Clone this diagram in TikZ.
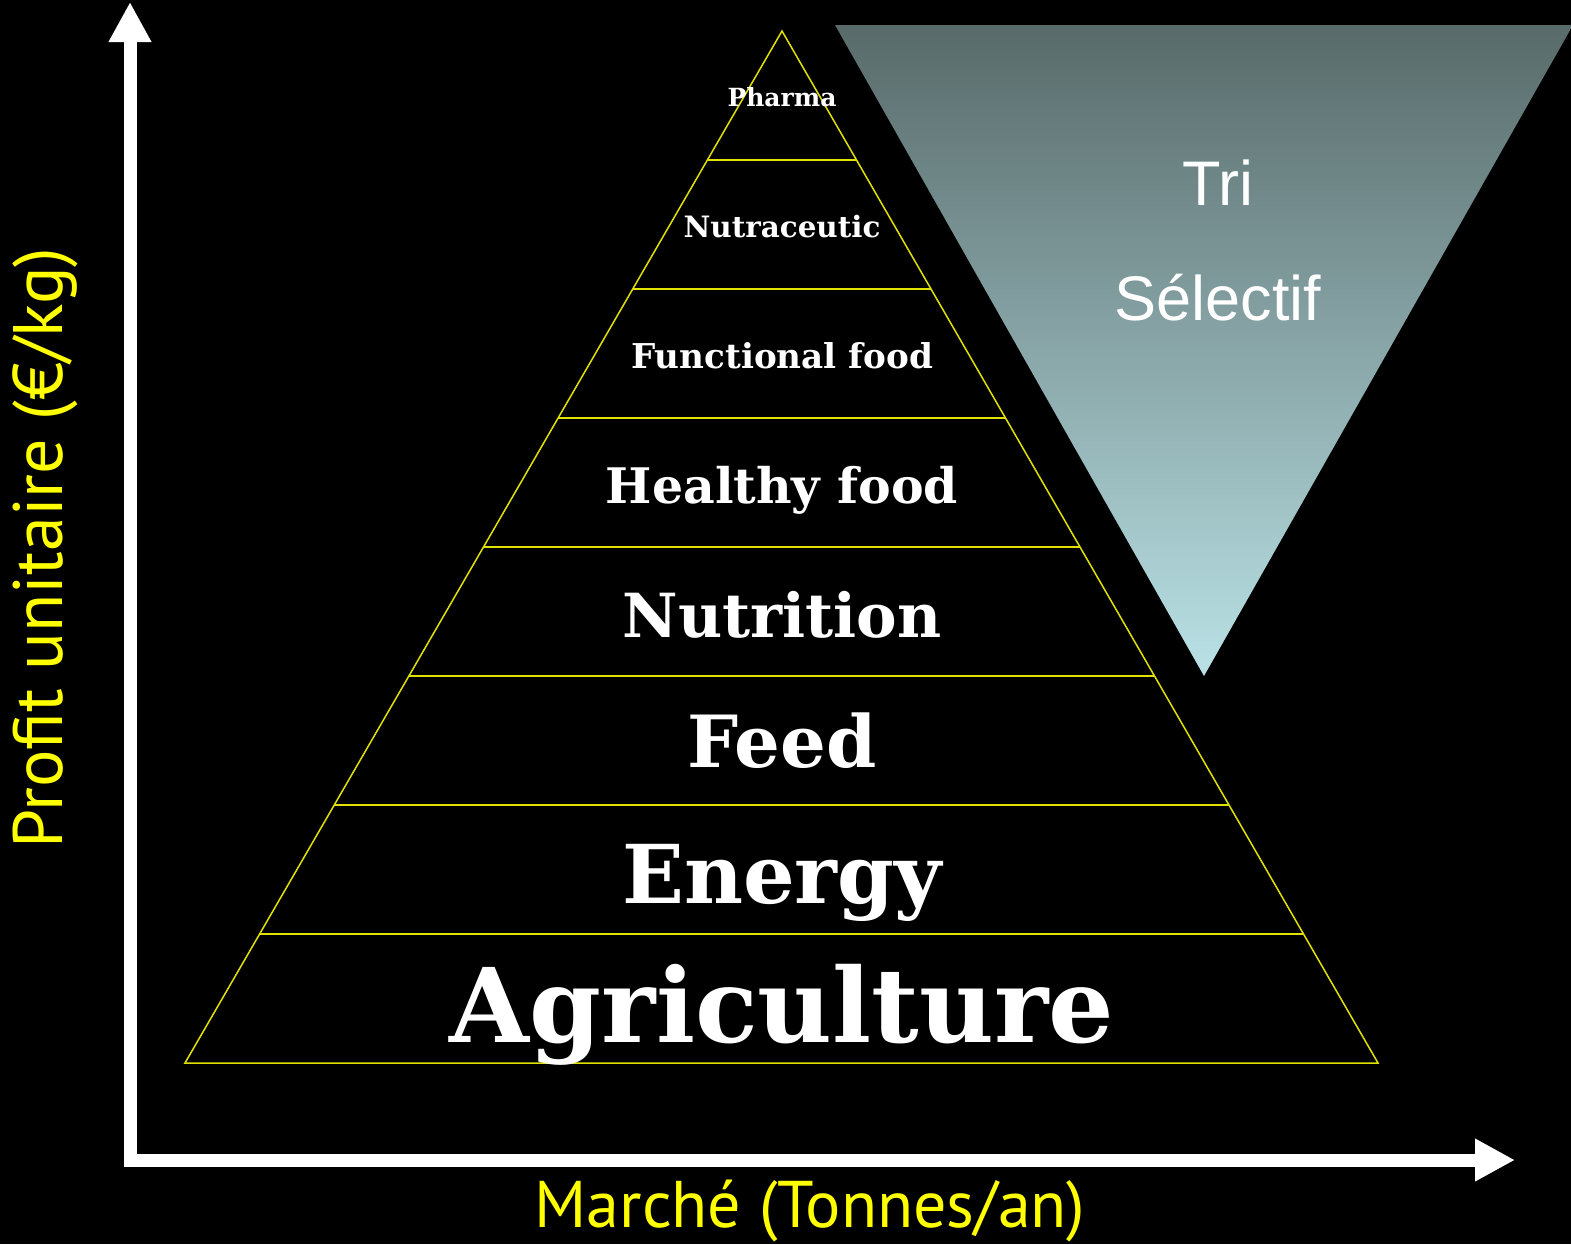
\documentclass[tikz,border=0pt]{standalone}
\usepackage{fontspec}
\setmainfont{Liberation Sans}
\newfontfamily\pyrfont{DejaVu Serif}
\newfontfamily\axisfont{PT Sans}
\usetikzlibrary{arrows.meta,calc,positioning}
\definecolor{pyrline}{RGB}{225,225,0}
\definecolor{axislabel}{RGB}{255,255,0}
\definecolor{tritop}{RGB}{88,106,106}
\definecolor{tribot}{RGB}{186,226,230}

\begin{document}
\begin{tikzpicture}[x=0.5pt,y=-0.5pt,
    axis/.style={draw=white,line width=6.5pt,line join=miter,
                 {Triangle[length=20pt,width=20pt]}-{Triangle[length=20pt,width=20pt]}},
    band/.style={draw=pyrline,line width=0.75pt},
    level/.style={text=white,font=\pyrfont\bfseries\fontsize{#1}{#1}\selectfont,anchor=base,inner sep=0pt},
    axistext/.style={text=axislabel,font=\axisfont\fontsize{#1}{#1}\selectfont,anchor=base,inner sep=0pt},
    tritext/.style={text=white,font=\fontsize{31.5}{31.5}\selectfont,anchor=base,inner sep=0pt}]
\fill[black] (0,0) rectangle (1571,1244);
\useasboundingbox (0,0) rectangle (1571,1244);

% selective sorting funnel
\coordinate (ftl) at (835,25);
\coordinate (ftr) at (1573,25);
\coordinate (fbot) at (1204,676);
\shade[top color=tritop,bottom color=tribot] (ftl) -- (ftr) -- (fbot) -- cycle;
\node[tritext] (tri) at (1218,205) {Tri};
\node[tritext] (selectif) at (1218,320) {Sélectif};

% pyramid
\coordinate (apex) at (782,31);
\coordinate (bl) at (185,1063);
\coordinate (br) at (1378,1063);
\draw[band] (apex) -- (bl) -- (br) -- cycle;
\foreach \i in {1,...,7}
  \draw[band] ($(apex)!\i/8!(bl)$) -- ($(apex)!\i/8!(br)$);

\foreach \name/\txt/\sz/\yb in {pharma/Pharma/12.5/106,nutra/Nutraceutic/14.7/237,
    functional/Functional food/17.1/368,healthy/Healthy food/24.5/503,
    nutrition/Nutrition/30.4/637,feed/Feed/36/767,energy/Energy/40.6/903,
    agri/Agriculture/51.5/1042}
  \node[level=\sz] (\name) at (782,\yb) {\txt};

% axes
\coordinate (ytip) at (130,2);
\coordinate (origin) at (130,1160);
\coordinate (xtip) at (1515,1160);
\draw[axis] (ytip) -- (origin) -- (xtip);
\node[axistext=35,rotate=90] (ylabel) at (62,548) {Profit unitaire (€/kg)};
\node[axistext=33] (xlabel) at (810,1227) {Marché (Tonnes/an)};
\end{tikzpicture}
\end{document}
